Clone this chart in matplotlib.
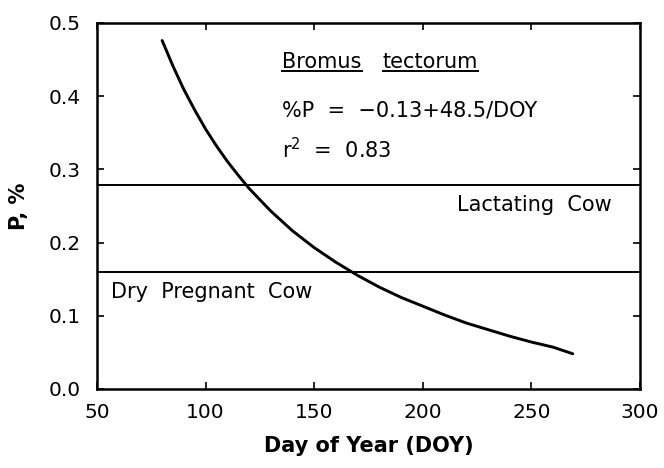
import matplotlib
matplotlib.use("Agg")
import matplotlib.pyplot as plt
from matplotlib.lines import Line2D

# values
doy = [80, 85, 90, 95, 100, 105, 110, 115, 120, 130, 140, 150, 160, 170,
       180, 190, 200, 210, 220, 230, 240, 250, 260, 269]
p_pct = [0.476, 0.441, 0.409, 0.381, 0.355, 0.332, 0.311, 0.292, 0.274,
         0.243, 0.216, 0.193, 0.173, 0.155, 0.139, 0.125, 0.113, 0.101,
         0.090, 0.081, 0.072, 0.064, 0.057, 0.048]
lactating = 0.278
dry_pregnant = 0.16
x_ticks = [50, 100, 150, 200, 250, 300]
y_ticks = [0.0, 0.1, 0.2, 0.3, 0.4, 0.5]

plt.rcParams["font.family"] = "DejaVu Sans"

fig = plt.figure(figsize=(6.64, 4.68), dpi=100)
ax = fig.add_axes([0.146, 0.169, 0.818, 0.782])

ax.plot(doy, p_pct, color="black", lw=2.1, solid_capstyle="round")
ax.axhline(lactating, color="black", lw=1.4)
ax.axhline(dry_pregnant, color="black", lw=1.4)

ax.set_xlim(50, 300)
ax.set_ylim(0, 0.5)
ax.set_xticks(x_ticks)
ax.set_yticks(y_ticks)
ax.set_yticklabels([f"{v:.1f}" for v in y_ticks])
ax.tick_params(direction="in", length=5, width=1.2, labelsize=14.5,
               top=True, right=True)
ax.tick_params(axis="x", pad=10)
ax.tick_params(axis="y", pad=12)
for s in ax.spines.values():
    s.set_linewidth(1.8)

ax.set_xlabel("Day of Year (DOY)", fontsize=15, fontweight="bold", labelpad=10)
ax.set_ylabel("P, %", fontsize=15, fontweight="bold", labelpad=14)

# species name, each word underlined
t1 = ax.text(0.341, 0.893, "Bromus", transform=ax.transAxes, fontsize=15, va="center")
t2 = ax.text(0.526, 0.893, "tectorum", transform=ax.transAxes, fontsize=15, va="center")
ax.text(0.341, 0.762, "%P  =  \u22120.13+48.5/DOY", transform=ax.transAxes,
        fontsize=15, va="center")
ax.text(0.341, 0.653, r"r$^2$  =  0.83", transform=ax.transAxes,
        fontsize=15, va="center")
ax.text(0.948, 0.503, "Lactating  Cow", transform=ax.transAxes,
        fontsize=15, ha="right", va="center")
ax.text(0.026, 0.265, "Dry  Pregnant  Cow", transform=ax.transAxes,
        fontsize=15, ha="left", va="center")

fig.canvas.draw()
r = fig.canvas.get_renderer()
inv = fig.transFigure.inverted()
for t in (t1, t2):
    bb = t.get_window_extent(r)
    (x0, y0), (x1, _) = inv.transform([[bb.x0, bb.y0], [bb.x1, bb.y0]])
    fig.add_artist(Line2D([x0, x1], [y0 + 0.003, y0 + 0.003], color="black",
                          lw=1.4, transform=fig.transFigure))

fig.savefig("out.png", dpi=100)
